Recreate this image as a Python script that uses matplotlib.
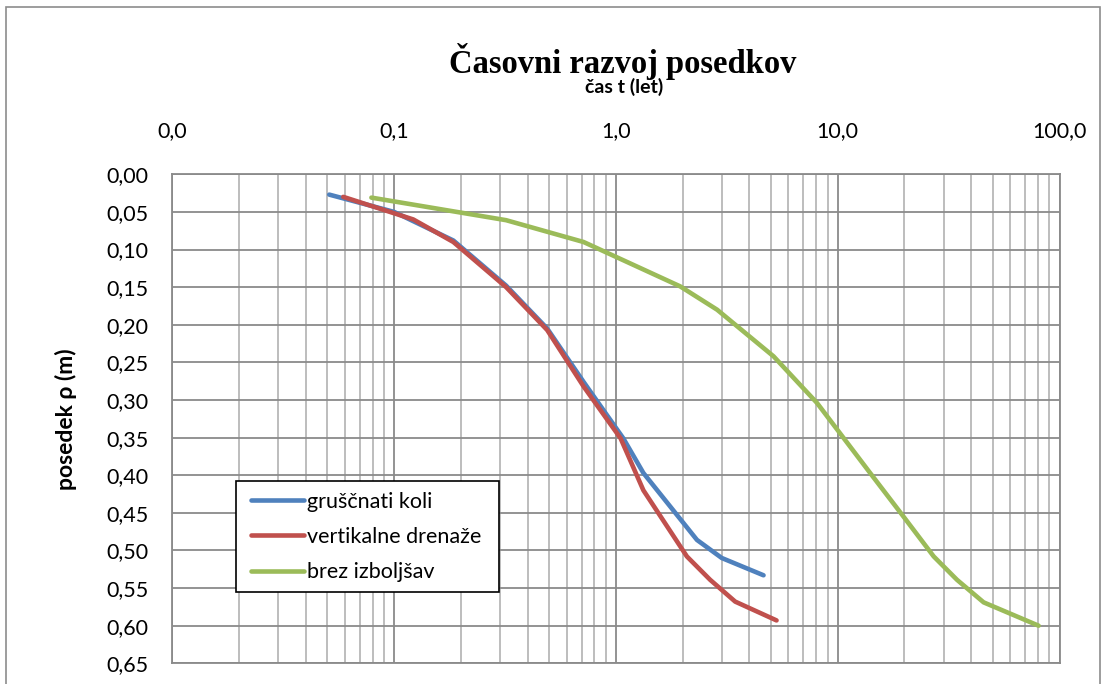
import matplotlib
matplotlib.use("Agg")
import matplotlib.pyplot as plt
from matplotlib.patches import Rectangle
from matplotlib.ticker import FixedLocator, FuncFormatter, LogLocator, NullFormatter

# --- data (time in years, settlement in m) ---
t_koli = [0.051, 0.1, 0.185, 0.32, 0.49, 0.715, 1.08, 1.33, 2.32, 3.0, 4.63]
s_koli = [0.027, 0.050, 0.088, 0.148, 0.205, 0.276, 0.351, 0.397, 0.486, 0.510, 0.533]

t_dren = [0.059, 0.122, 0.185, 0.32, 0.49, 0.715, 1.05, 1.33, 2.09, 2.66, 3.45, 5.3]
s_dren = [0.030, 0.060, 0.090, 0.150, 0.207, 0.282, 0.351, 0.420, 0.508, 0.539, 0.568, 0.593]

t_brez = [0.079, 0.32, 0.715, 1.95, 2.86, 5.14, 8.07, 14.0, 19.8, 27.1, 34.5, 45.5, 80.5]
s_brez = [0.031, 0.061, 0.090, 0.149, 0.180, 0.242, 0.304, 0.397, 0.455, 0.508, 0.539, 0.569, 0.600]

labels = ["gruščnati koli", "vertikalne drenaže", "brez izboljšav"]
colors = ["#4F81BD", "#C0504D", "#9BBB59"]
x_ticks = [0.01, 0.1, 1, 10, 100]
y_ticks = [round(0.05 * i, 2) for i in range(14)]

W, H = 1105, 684
fig = plt.figure(figsize=(W / 100, H / 100), dpi=100, facecolor="white")
ax = fig.add_axes([172.3 / W, 20.7 / H, 887.2 / W, 489.0 / H])

# outer chart-area border
fig.add_artist(Rectangle((6 / W, -0.05), 1094 / W, (H - 7) / H + 0.05,
                         transform=fig.transFigure, fill=False,
                         edgecolor="#8c8c8c", linewidth=1.2))

for t, s, lab, c in zip([t_koli, t_dren, t_brez], [s_koli, s_dren, s_brez], labels, colors):
    ax.plot(t, s, color=c, linewidth=3.3, label=lab, solid_capstyle="round", zorder=3)

ax.set_xscale("log")
ax.set_xlim(0.01, 100)
ax.set_ylim(0.65, 0.0)

ax.xaxis.set_major_locator(FixedLocator(x_ticks))
ax.xaxis.set_minor_locator(LogLocator(base=10, subs=range(2, 10)))
ax.xaxis.set_minor_formatter(NullFormatter())
ax.xaxis.set_major_formatter(FuncFormatter(lambda v, p: f"{v:.1f}".replace(".", ",")))
ax.yaxis.set_major_locator(FixedLocator(y_ticks))
ax.yaxis.set_major_formatter(FuncFormatter(lambda v, p: f"{v:.2f}".replace(".", ",")))

ax.xaxis.tick_top()
ax.tick_params(axis="both", which="both", length=0, labelsize=15.5, labelcolor="black")
ax.tick_params(axis="x", pad=24)
ax.tick_params(axis="y", pad=17)
for lbl in ax.get_xticklabels() + ax.get_yticklabels():
    lbl.set_fontfamily("Lato")

ax.grid(True, which="major", axis="x", color="#8a8a8a", linewidth=1.3)
ax.grid(True, which="minor", axis="x", color="#b8b8b8", linewidth=1.3)
ax.grid(True, which="major", axis="y", color="#8a8a8a", linewidth=1.3)
ax.set_axisbelow(True)
for sp in ax.spines.values():
    sp.set_color("#8a8a8a")
    sp.set_linewidth(1.3)

fig.text(623 / W, 1 - 73 / H, "Časovni razvoj posedkov", ha="center", va="baseline",
         fontsize=23.5, fontweight="bold", family="Liberation Serif")
fig.text(624 / W, 1 - 87 / H, "čas t (let)", ha="center", va="center",
         fontsize=14, fontweight="bold", family="Lato")
fig.text(66 / W, 1 - 419 / H, "posedek ρ (m)", ha="center", va="center", rotation=90,
         fontsize=16.5, fontweight="bold", family="Lato")

# legend: frame drawn separately to match the Excel box padding
ax.add_patch(Rectangle((236 / W, 1 - 592 / H), 263 / W, 111 / H,
                       transform=fig.transFigure, facecolor="white", clip_on=False,
                       edgecolor="black", linewidth=1.2, zorder=4))
leg = ax.legend(loc="center left", bbox_to_anchor=(251 / W, 1 - 537 / H),
                bbox_transform=fig.transFigure, prop={"family": "Lato", "size": 15.5},
                frameon=False, borderpad=0, labelspacing=0.7,
                handlelength=2.45, handletextpad=0.15, borderaxespad=0)
leg.set_zorder(5)

fig.savefig("out.png", dpi=100, facecolor="white")
